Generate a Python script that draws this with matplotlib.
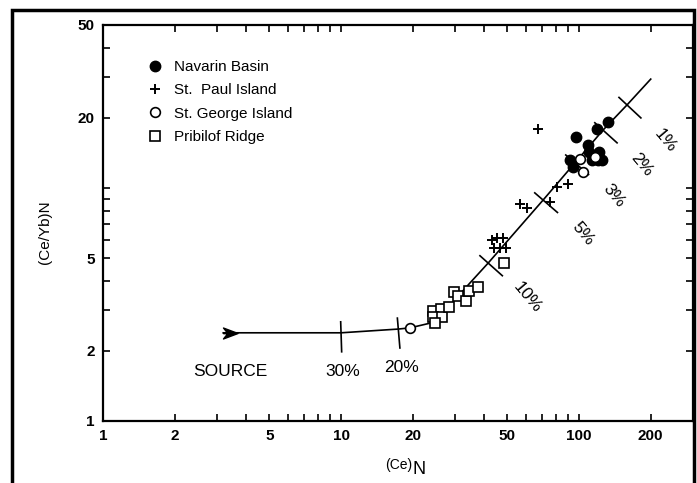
import numpy as np
import matplotlib.pyplot as plt
from matplotlib.path import Path
from matplotlib.patches import Rectangle

plt.rcParams['font.family'] = ['Liberation Sans', 'DejaVu Sans']

# sample data
navarin_x = [132, 119, 97, 109, 110, 121, 120, 125, 92, 94, 113]
navarin_y = [19.2, 17.9, 16.5, 15.3, 14.3, 14.3, 13.2, 13.2, 13.2, 12.3, 13.2]

paul_x = [67.3, 56.5, 60.5, 75.5, 80.8, 89.9, 43.1, 45.2, 47.9, 44.0, 46.6, 49.3]
paul_y = [17.9, 8.53, 8.20, 8.70, 10.1, 10.4, 5.98, 6.10, 6.10, 5.52, 5.52, 5.52]

george_x = [101, 104, 117, 19.5]
george_y = [13.3, 11.7, 13.6, 2.51]

pribilof_x = [24.4, 26.3, 24.4, 26.6, 24.8, 28.4, 29.8, 31.0, 33.5, 34.5, 37.6, 48.4]
pribilof_y = [2.96, 3.02, 2.79, 2.79, 2.63, 3.08, 3.58, 3.44, 3.27, 3.61, 3.76, 4.76]

# melting curve
curve_x = [3.2, 10, 17.4, 19.5, 23.7, 28.7, 34.8, 41.5, 70.6, 126, 159, 200]
curve_y = [2.39, 2.39, 2.48, 2.51, 2.63, 3.14, 3.91, 4.76, 8.87, 17.7, 22.7, 29.3]

melt_labels = ['30%', '20%', '10%', '5%', '3%', '2%', '1%']
melt_x = [10, 17.4, 41.5, 70.6, 95.3, 126, 159]
melt_y = [2.39, 2.48, 4.76, 8.87, 12.9, 17.7, 22.7]

x_ticks = [1, 2, 3, 4, 5, 6, 7, 8, 9, 10, 20, 30, 40, 50, 60, 70, 80, 90, 100, 200]
x_labeled = [1, 2, 5, 10, 20, 50, 100, 200]
y_ticks = [1, 2, 3, 4, 5, 6, 7, 8, 9, 10, 20, 30, 40, 50]
y_labeled = [1, 2, 5, 20, 50]

fig = plt.figure(figsize=(6.97, 4.83), dpi=100)
ax = fig.add_axes([103/697, 1 - 421/483, 590/697, 396/483])
ax.set_xscale('log')
ax.set_yscale('log')
ax.set_xlim(1, 301)
ax.set_ylim(1, 50)

ax.set_xticks(x_ticks)
ax.set_xticklabels([str(v) if v in x_labeled else '' for v in x_ticks])
ax.set_yticks(y_ticks)
ax.set_yticklabels([str(v) if v in y_labeled else '' for v in y_ticks])
ax.minorticks_off()
ax.tick_params(direction='in', length=5, width=1.2, top=True, right=True,
               labelsize=11, pad=6)
for t in ax.get_xticklabels() + ax.get_yticklabels():
    t.set_fontweight('bold')
for s in ax.spines.values():
    s.set_linewidth(1.6)

# curve + source arrow
ax.plot(curve_x, curve_y, color='black', lw=1.2, zorder=2)
arrow = Path([(0, 0), (0.6, 0), (0, 0.75), (2, 0), (0, -0.75), (0.6, 0), (0, 0)],
             [Path.MOVETO, Path.LINETO, Path.LINETO, Path.LINETO, Path.LINETO,
              Path.LINETO, Path.CLOSEPOLY])
ax.plot(curve_x[0], curve_y[0], marker=arrow, markersize=21, color='black',
        zorder=3)

# melt fraction ticks and labels
disp = ax.transData.transform(np.column_stack([curve_x, curve_y]))
inv = ax.transData.inverted()
for lbl, mx, my in zip(melt_labels, melt_x, melt_y):
    p = ax.transData.transform((mx, my))
    ya = np.interp(p[0] - 3, disp[:, 0], disp[:, 1])
    yb = np.interp(p[0] + 3, disp[:, 0], disp[:, 1])
    v = np.array([6.0, yb - ya])
    v /= np.linalg.norm(v)
    perp = np.array([v[1], -v[0]])
    seg = inv.transform([p - 11 * perp, p + 19 * perp])
    ax.plot(seg[:, 0], seg[:, 1], color='black', lw=1.2, zorder=2)
    diag = abs(v[1]) > 0.3
    dist = 52 if diag else 39
    ax.annotate(lbl, (mx, my), xytext=tuple(perp * dist), textcoords='offset pixels',
                ha='center', va='center', fontsize=12.5,
                rotation=-50 if diag else 0)

ax.annotate('SOURCE', (curve_x[0], curve_y[0]), xytext=(7, -39),
            textcoords='offset pixels', ha='center', va='center', fontsize=12.5)

# samples
ax.plot(navarin_x, navarin_y, 'o', color='black', ms=7.5, ls='none',
        label='Navarin Basin', zorder=4)
ax.plot(paul_x, paul_y, '+', color='black', ms=7, mew=1.4, ls='none',
        label='St.  Paul Island', zorder=4)
ax.plot(george_x, george_y, 'o', mfc='white', mec='black', mew=1.2, ms=7,
        ls='none', label='St. George Island', zorder=4)
ax.plot(pribilof_x, pribilof_y, 's', mfc='white', mec='black', mew=1.2, ms=7,
        ls='none', label='Pribilof Ridge', zorder=4)

ax.legend(loc='upper left', bbox_to_anchor=(0.076, 0.912), frameon=False,
          fontsize=11, handlelength=1, handletextpad=0.7, borderpad=0,
          borderaxespad=0, labelspacing=0.62)

# axis titles
fig.text(45/697, 1 - 232/483, '(Ce/Yb)N', rotation=90, ha='center',
         va='center', fontsize=11)
fig.text(412/697, 1 - 465/483, '(Ce)', ha='right', va='center', fontsize=10)
fig.text(412/697, 1 - 470/483, 'N', ha='left', va='center', fontsize=13)

# outer frame
fig.patches.append(Rectangle((12/697, -0.02), 682/697, 1.02 - 10/483,
                             transform=fig.transFigure, fill=False,
                             lw=2.5, color='black'))

fig.savefig('out.png', dpi=100)
